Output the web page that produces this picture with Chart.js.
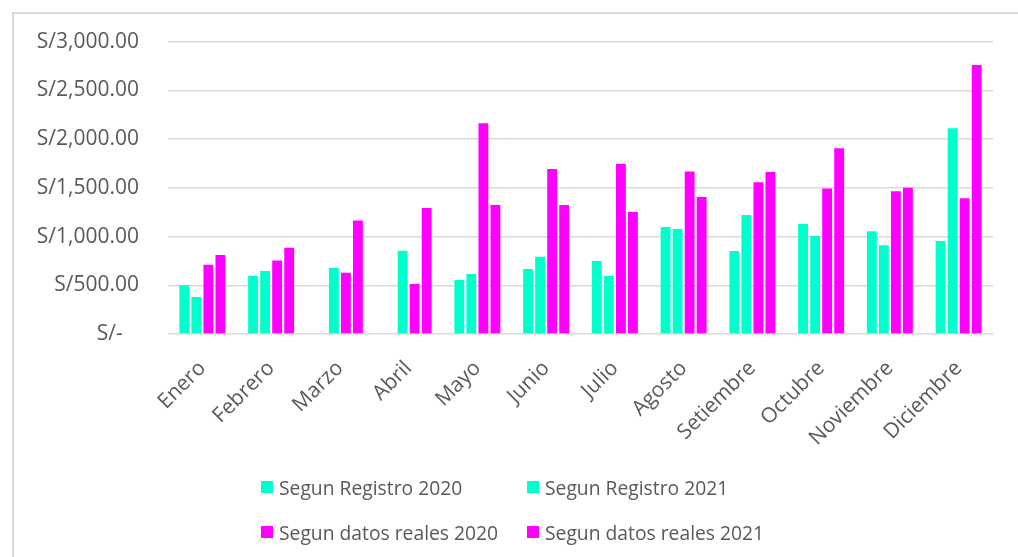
<!DOCTYPE html>
<html>
<head>
<meta charset="utf-8">
<script src="https://cdn.jsdelivr.net/npm/chart.js@4.4.8/dist/chart.umd.min.js"></script>
<style>
  html, body { margin: 0; padding: 0; background: #fff; }
  #wrap { position: relative; width: 1018px; height: 557px; overflow: hidden; font-family: "Open Sans", sans-serif; }
  #frame { position: absolute; left: 12px; top: 12px; width: 1100px; height: 600px; border-left: 2px solid #d9d9d9; border-top: 2px solid #d9d9d9; }
  #myChart { position: absolute; left: 0; top: 0; }
  #legend { position: absolute; left: 261px; top: 475px; display: grid; grid-template-columns: 266px 266px; row-gap: 21px; }
  .item { display: flex; align-items: center; height: 24px; color: #595959; font-size: 19.3px; white-space: nowrap; }
  .box { width: 12px; height: 12px; margin-right: 6px; flex: none; }
</style>
</head>
<body>
<div id="wrap">
  <div id="frame"></div>
  <canvas id="myChart" width="1018" height="557"></canvas>
  <div id="legend"></div>
</div>
<script>
const meses = ['Enero', 'Febrero', 'Marzo', 'Abril', 'Mayo', 'Junio', 'Julio', 'Agosto', 'Setiembre', 'Octubre', 'Noviembre', 'Diciembre'];
const registro2020 = [500, 595, null, null, 554, 666, 748, 1097, 852, 1129, 1053, 954];
const registro2021 = [379, 646, 677, 854, 615, 793, 595, 1077, 1221, 1005, 910, 2110];
const reales2020 = [711, 755, 629, 513, 2163, 1692, 1743, 1668, 1556, 1494, 1464, 1392];
const reales2021 = [810, 885, 1165, 1292, 1323, 1323, 1251, 1405, 1662, 1905, 1501, 2760];
const yTicks = [0, 500, 1000, 1500, 2000, 2500, 3000];

const TEAL = '#00ffcc';
const MAGENTA = '#ff00ff';
const series = [
  { label: 'Segun Registro 2020', data: registro2020, color: TEAL },
  { label: 'Segun Registro 2021', data: registro2021, color: TEAL },
  { label: 'Segun datos reales 2020', data: reales2020, color: MAGENTA },
  { label: 'Segun datos reales 2021', data: reales2021, color: MAGENTA }
];

function soles(v) {
  if (v === 0) return 'S/-   ';
  return 'S/' + v.toLocaleString('en-US', { minimumFractionDigits: 2, maximumFractionDigits: 2 });
}

const font = { family: '"Open Sans", sans-serif', size: 21 };

new Chart(document.getElementById('myChart'), {
  type: 'bar',
  data: {
    labels: meses,
    datasets: series.map(s => ({
      label: s.label,
      data: s.data,
      backgroundColor: s.color,
      borderWidth: 0,
      categoryPercentage: 0.7,
      barPercentage: 0.82
    }))
  },
  options: {
    responsive: false,
    animation: false,
    devicePixelRatio: 1,
    layout: { padding: { top: 41, right: 25, left: 0, bottom: 0 } },
    plugins: {
      legend: { display: false },
      tooltip: { enabled: false }
    },
    scales: {
      x: {
        grid: { display: false },
        border: { display: false },
        ticks: { color: '#595959', font: font, minRotation: 45, maxRotation: 45, padding: 14, autoSkip: false },
        afterFit: function (scale) { scale.height = 223; }
      },
      y: {
        min: 0,
        max: 3000,
        afterBuildTicks: function (scale) { scale.ticks = yTicks.map(v => ({ value: v })); },
        grid: { color: '#d9d9d9', lineWidth: 1.5, drawTicks: false },
        border: { display: false },
        ticks: { color: '#595959', font: font, padding: 29, callback: v => soles(v) },
        afterFit: function (scale) { scale.width = 168; }
      }
    }
  }
});

// leyenda en dos columnas alineadas
const legend = document.getElementById('legend');
series.forEach(s => {
  const item = document.createElement('div');
  item.className = 'item';
  const box = document.createElement('span');
  box.className = 'box';
  box.style.background = s.color;
  item.appendChild(box);
  item.appendChild(document.createTextNode(s.label));
  legend.appendChild(item);
});
</script>
</body>
</html>
